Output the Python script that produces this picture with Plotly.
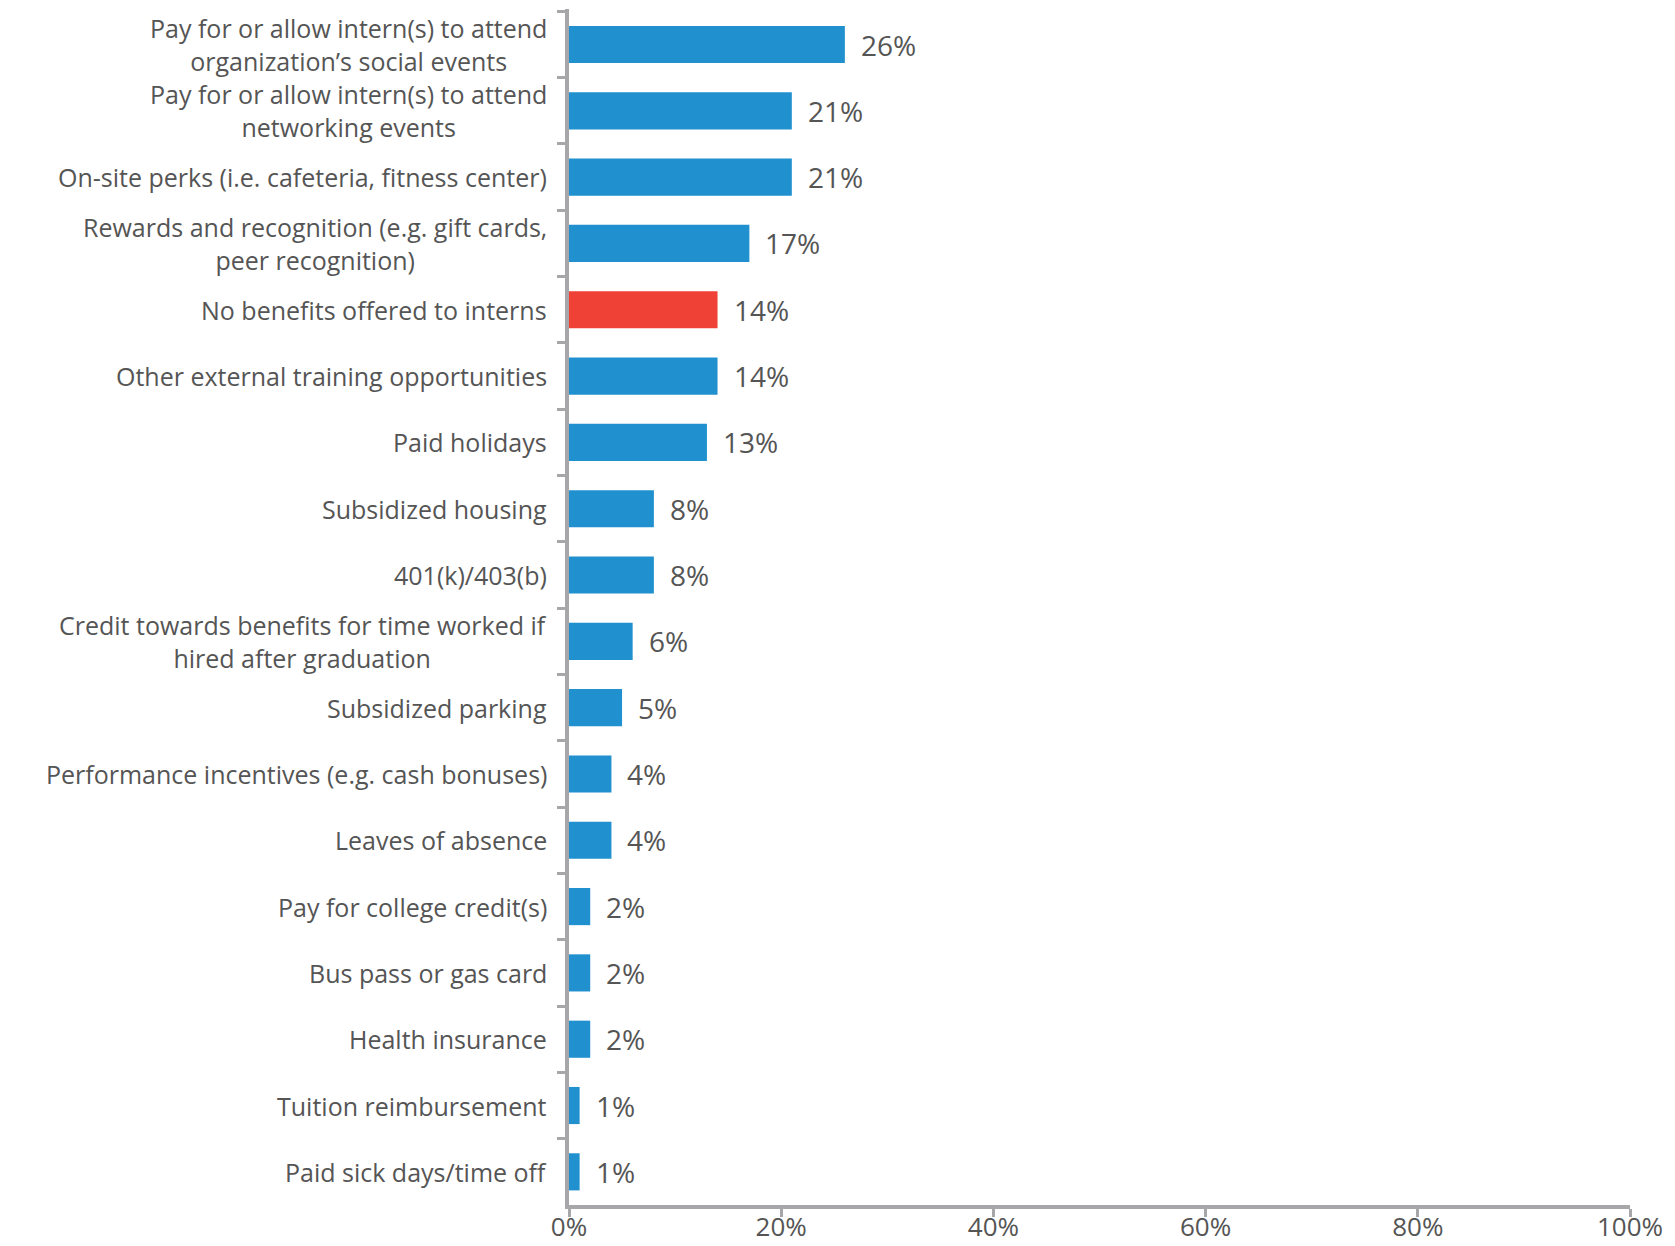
import plotly.graph_objects as go

# Intern benefits, listed top to bottom
categories = [
    "Pay for or allow intern(s) to attend<br>organization’s social events",
    "Pay for or allow intern(s) to attend<br>networking events",
    "On-site perks (i.e. cafeteria, fitness center)",
    "Rewards and recognition (e.g. gift cards,<br>peer recognition)",
    "No benefits offered to interns",
    "Other external training opportunities",
    "Paid holidays",
    "Subsidized housing",
    "401(k)/403(b)",
    "Credit towards benefits for time worked if<br>hired after graduation",
    "Subsidized parking",
    "Performance incentives (e.g. cash bonuses)",
    "Leaves of absence",
    "Pay for college credit(s)",
    "Bus pass or gas card",
    "Health insurance",
    "Tuition reimbursement",
    "Paid sick days/time off",
]
values = [26, 21, 21, 17, 14, 14, 13, 8, 8, 6, 5, 4, 4, 2, 2, 2, 1, 1]
highlight = "No benefits offered to interns"

x_ticks = [0, 20, 40, 60, 80, 100]
x_tick_labels = [f"{t}%" for t in x_ticks]

BLUE = "#2090cf"
RED = "#ef4136"
AXIS_GREY = "#a7a7a9"
TEXT_GREY = "#555555"
FONT = "Open Sans"
LABEL_FS = 25
VALUE_FS = 28
TICK_FS = 26

colors = [RED if c == highlight else BLUE for c in categories]

fig = go.Figure(
    go.Bar(
        x=values,
        y=categories,
        orientation="h",
        marker=dict(color=colors, line=dict(width=0)),
        hoverinfo="skip",
    )
)

# Value labels just past each bar end
for c, v in zip(categories, values):
    fig.add_annotation(
        x=v, y=c, xref="x", yref="y",
        text=f"{v}%", showarrow=False,
        xanchor="left", xshift=14,
        font=dict(family=FONT, size=VALUE_FS, color=TEXT_GREY),
    )

# Category labels, centred line by line and right-aligned to the axis
for c in categories:
    fig.add_annotation(
        x=0, y=c, xref="paper", yref="y",
        text=c, showarrow=False,
        xanchor="right", align="center", xshift=-20,
        font=dict(family=FONT, size=LABEL_FS, color=TEXT_GREY),
    )

fig.update_layout(
    width=1675,
    height=1246,
    margin=dict(l=569, r=45, t=9, b=41),
    paper_bgcolor="white",
    plot_bgcolor="white",
    bargap=0.44,
    showlegend=False,
    font=dict(family=FONT, size=LABEL_FS, color=TEXT_GREY),
)

fig.update_xaxes(
    range=[0, 100],
    tickvals=x_ticks,
    ticktext=x_tick_labels,
    automargin=False,
    showgrid=False,
    zeroline=False,
    showline=True,
    linecolor=AXIS_GREY,
    linewidth=4,
    ticks="outside",
    ticklen=8,
    tickwidth=3,
    tickcolor=AXIS_GREY,
    ticklabelstandoff=-12,
    tickfont=dict(family=FONT, size=TICK_FS, color=TEXT_GREY),
    fixedrange=True,
)

fig.update_yaxes(
    categoryorder="array",
    categoryarray=categories,
    autorange="reversed",
    automargin=False,
    showticklabels=False,
    showgrid=False,
    zeroline=False,
    showline=True,
    linecolor=AXIS_GREY,
    linewidth=4,
    ticks="outside",
    tickson="boundaries",
    ticklen=8,
    tickwidth=3,
    tickcolor=AXIS_GREY,
    fixedrange=True,
)

fig.write_html("out.html")
